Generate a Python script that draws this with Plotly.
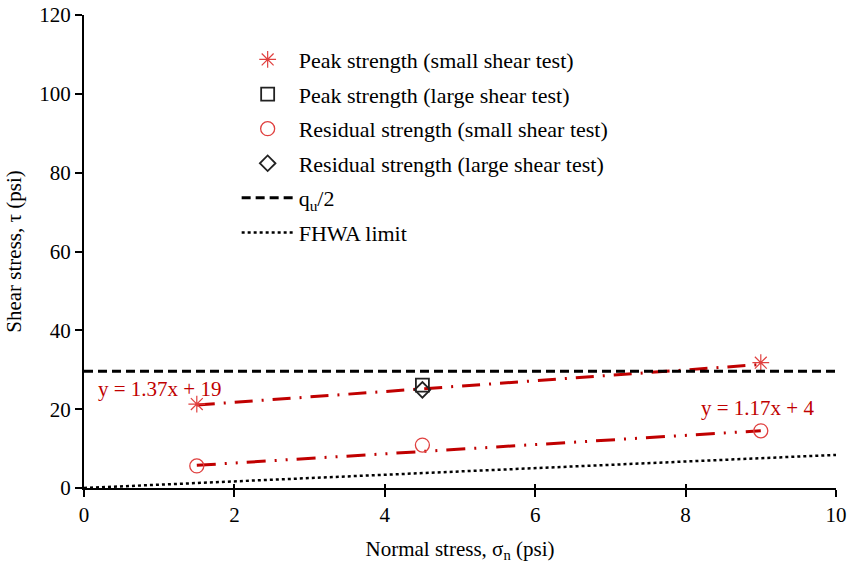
import plotly.graph_objects as go

# Data
peak_small_x = [1.5, 9.0]
peak_small_y = [21.3, 31.8]
peak_large_x = [4.5]
peak_large_y = [26.1]
res_small_x = [1.5, 4.5, 9.0]
res_small_y = [5.6, 10.9, 14.5]
res_large_x = [4.5]
res_large_y = [24.9]
qu_half_x = [0, 10]
qu_half_y = [29.6, 29.6]
fhwa_x = [0, 10]
fhwa_y = [0, 8.4]
peak_fit = (1.37, 19)   # slope, intercept
res_fit = (1.17, 4)
fit_x = [1.5, 9.0]

RED = "#C00000"
MRED = "#E0403F"
FONT = "Liberation Serif"
FS = 21
LFS = 22
DASHDOT = "18px,9px,2px,9px"
DASHDOT2 = "19px,9px,2px,9px,2px,9px"

fig = go.Figure()

# trendlines (no legend)
fig.add_trace(go.Scatter(x=fit_x, y=[peak_fit[0]*x + peak_fit[1] for x in fit_x], mode="lines",
                         line=dict(color=RED, width=3, dash=DASHDOT), showlegend=False, hoverinfo="skip"))
fig.add_trace(go.Scatter(x=fit_x, y=[res_fit[0]*x + res_fit[1] for x in fit_x], mode="lines",
                         line=dict(color=RED, width=3, dash=DASHDOT2), showlegend=False, hoverinfo="skip"))

fig.add_trace(go.Scatter(x=peak_small_x, y=peak_small_y, mode="markers", name="Peak strength (small shear test)",
                         legendgroup="a",
                         marker=dict(symbol="asterisk", size=14, line=dict(color=MRED, width=1.2), color=MRED)))
fig.add_trace(go.Scatter(x=peak_large_x, y=peak_large_y, mode="markers", name="Peak strength (large shear test)",
                         legendgroup="b",
                         marker=dict(symbol="square-open", size=13, color="#222222", line=dict(width=1.8))))
fig.add_trace(go.Scatter(x=res_small_x, y=res_small_y, mode="markers", name="Residual strength (small shear test)",
                         legendgroup="c",
                         marker=dict(symbol="circle-open", size=14, color=MRED, line=dict(width=1.3))))
fig.add_trace(go.Scatter(x=res_large_x, y=res_large_y, mode="markers", name="Residual strength (large shear test)",
                         legendgroup="d",
                         marker=dict(symbol="diamond-open", size=12, color="#222222", line=dict(width=1.8))))
fig.add_trace(go.Scatter(x=qu_half_x, y=qu_half_y, mode="lines", name="q<sub>u</sub>/2",
                         legendgroup="e",
                         line=dict(color="black", width=3, dash="9px,5px")))
fig.add_trace(go.Scatter(x=fhwa_x, y=fhwa_y, mode="lines", name="FHWA limit",
                         legendgroup="f",
                         line=dict(color="black", width=2.5, dash="dot")))

fig.add_annotation(x=0.16, y=25.0, text="y = 1.37x + 19", showarrow=False, xanchor="left",
                   font=dict(family=FONT, size=FS, color=RED))
fig.add_annotation(x=8.96, y=20.4, text="y = 1.17x + 4", showarrow=False, xanchor="center",
                   font=dict(family=FONT, size=FS, color=RED))

axis_common = dict(showgrid=False, zeroline=False, showline=True, linecolor="black", linewidth=2,
                   ticks="outside", tickcolor="black", tickwidth=2, ticklen=7, automargin=False,
                   tickfont=dict(family=FONT, size=FS, color="black"))

fig.update_layout(
    width=850, height=563,
    margin=dict(l=84, r=14, t=15, b=75),
    plot_bgcolor="white", paper_bgcolor="white",
    font=dict(family=FONT, size=FS, color="black"),
    xaxis=dict(range=[0, 10], dtick=2, title=dict(text="Normal stress, σ<sub>n</sub> (psi)", standoff=15,
               font=dict(family=FONT, size=FS)), **axis_common),
    yaxis=dict(range=[0, 120], dtick=20, title=dict(text="Shear stress, τ (psi)", standoff=12,
               font=dict(family=FONT, size=FS)), **axis_common),
    xaxis2=dict(range=[0, 10], dtick=2, overlaying="x", side="bottom", anchor="y", showgrid=False,
                zeroline=False, showline=False, ticks="inside", ticklen=4, tickwidth=2, tickcolor="black",
                showticklabels=False),
    legend=dict(x=0.203, y=0.95, xanchor="left", yanchor="top", bgcolor="rgba(0,0,0,0)",
                font=dict(family=FONT, size=LFS, color="black"), tracegroupgap=3, itemwidth=52),
    showlegend=True,
)
# dummy trace to activate the overlay axis for crossing ticks
fig.add_trace(go.Scatter(x=[0], y=[0], xaxis="x2", mode="markers", marker=dict(opacity=0),
                         showlegend=False, hoverinfo="skip"))

fig.write_html("out.html", post_script="document.body.style.margin='0';",
               config={"displayModeBar": False})
